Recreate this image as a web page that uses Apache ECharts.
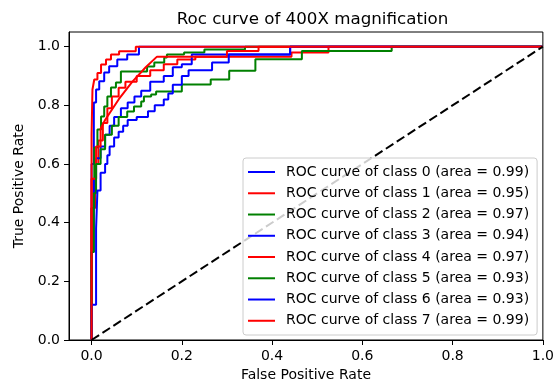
<!DOCTYPE html>
<html>
<head>
<meta charset="utf-8">
<script src="https://cdn.jsdelivr.net/npm/echarts@6/dist/echarts.min.js"></script>
<style>
html,body{margin:0;padding:0;background:#fff;}
#chart{width:557px;height:387px;}
</style>
</head>
<body>
<div id="chart"></div>
<script>
var titleText = "Roc curve of 400X magnification";
var xLabel = "False Positive Rate";
var yLabel = "True Positive Rate";
var xTicks = [0, 0.2, 0.4, 0.6, 0.8, 1.0];
var yTicks = [0, 0.2, 0.4, 0.6, 0.8, 1.0];
var classIds = [0, 1, 2, 3, 4, 5, 6, 7];
var areas = ["0.99", "0.95", "0.97", "0.94", "0.97", "0.93", "0.93", "0.99"];
var classColors = ["#0000ff", "#ff0000", "#008000", "#0000ff", "#ff0000", "#008000", "#0000ff", "#ff0000"];

var fpr0 = [0, 0, 0.005, 0.005, 0.01, 0.01, 0.017, 0.017, 0.028, 0.028, 0.039, 0.039, 0.057, 0.057, 0.079, 0.079, 0.105, 0.105, 1];
var tpr0 = [0, 0.6, 0.6, 0.81, 0.81, 0.854, 0.854, 0.882, 0.882, 0.912, 0.912, 0.933, 0.933, 0.956, 0.956, 0.973, 0.973, 1, 1];

var fpr1 = [0, 0, 0.008, 0.008, 0.015, 0.015, 0.025, 0.025, 0.035, 0.035, 0.045, 0.045, 0.06, 0.06, 0.075, 0.075, 0.1, 0.1, 0.13, 0.13, 0.16, 0.16, 0.19, 0.19, 0.23, 0.23, 0.443, 0.443, 0.525, 0.525, 1];
var tpr1 = [0, 0.45, 0.45, 0.6, 0.6, 0.68, 0.68, 0.74, 0.74, 0.79, 0.79, 0.83, 0.83, 0.86, 0.86, 0.88, 0.88, 0.9, 0.9, 0.92, 0.92, 0.94, 0.94, 0.956, 0.956, 0.966, 0.966, 0.98, 0.98, 1, 1];

var fpr2 = [0, 0, 0.006, 0.006, 0.013, 0.013, 0.021, 0.021, 0.028, 0.028, 0.035, 0.035, 0.043, 0.043, 0.054, 0.054, 0.065, 0.065, 0.123, 0.123, 0.139, 0.139, 0.161, 0.161, 0.167, 0.167, 0.205, 0.205, 0.25, 0.25, 0.34, 0.34, 1];
var tpr2 = [0, 0.45, 0.45, 0.656, 0.656, 0.718, 0.718, 0.762, 0.762, 0.796, 0.796, 0.83, 0.83, 0.861, 0.861, 0.878, 0.878, 0.915, 0.915, 0.932, 0.932, 0.946, 0.946, 0.963, 0.963, 0.973, 0.973, 0.98, 0.98, 0.99, 0.99, 1, 1];

var fpr3 = [0, 0, 0.005, 0.005, 0.01, 0.01, 0.02, 0.02, 0.03, 0.03, 0.04, 0.04, 0.05, 0.05, 0.065, 0.065, 0.08, 0.08, 0.095, 0.095, 0.11, 0.11, 0.13, 0.13, 0.16, 0.16, 0.18, 0.18, 0.2, 0.2, 0.222, 0.222, 0.44, 0.44, 1];
var tpr3 = [0, 0.3, 0.3, 0.55, 0.55, 0.62, 0.62, 0.66, 0.66, 0.7, 0.7, 0.73, 0.73, 0.76, 0.76, 0.79, 0.79, 0.81, 0.81, 0.83, 0.83, 0.85, 0.85, 0.88, 0.88, 0.9, 0.9, 0.93, 0.93, 0.94, 0.94, 0.973, 0.973, 1, 1];

var fpr4 = [0, 0, 0.01, 0.01, 0.02, 0.02, 0.03, 0.06, 0.09, 0.12, 0.145, 0.3, 0.3, 0.37, 0.37, 1];
var tpr4 = [0, 0.55, 0.55, 0.66, 0.66, 0.72, 0.75, 0.82, 0.88, 0.93, 0.966, 0.966, 0.985, 0.985, 1, 1];

var fpr5 = [0, 0, 0.005, 0.005, 0.01, 0.01, 0.02, 0.02, 0.03, 0.03, 0.045, 0.045, 0.06, 0.06, 0.079, 0.079, 0.094, 0.094, 0.11, 0.11, 0.116, 0.116, 0.132, 0.132, 0.143, 0.143, 0.2, 0.2, 0.264, 0.264, 0.305, 0.305, 0.363, 0.363, 0.466, 0.466, 0.665, 0.665, 1];
var tpr5 = [0, 0.3, 0.3, 0.5, 0.5, 0.6, 0.6, 0.65, 0.65, 0.7, 0.7, 0.73, 0.73, 0.76, 0.76, 0.779, 0.779, 0.796, 0.796, 0.813, 0.813, 0.83, 0.83, 0.837, 0.837, 0.847, 0.847, 0.871, 0.871, 0.888, 0.888, 0.918, 0.918, 0.957, 0.957, 0.985, 0.985, 1, 1];

var fpr6 = [0, 0, 0.01, 0.01, 0.013, 0.013, 0.02, 0.02, 0.03, 0.03, 0.035, 0.035, 0.04, 0.04, 0.05, 0.05, 0.06, 0.06, 0.07, 0.07, 0.08, 0.08, 0.1, 0.1, 0.125, 0.125, 0.14, 0.14, 0.16, 0.16, 0.17, 0.17, 0.18, 0.18, 0.2, 0.2, 0.215, 0.215, 0.267, 0.267, 0.304, 0.304, 0.44, 0.44, 1];
var tpr6 = [0, 0.12, 0.12, 0.38, 0.38, 0.51, 0.51, 0.57, 0.57, 0.6, 0.6, 0.63, 0.63, 0.66, 0.66, 0.69, 0.69, 0.71, 0.71, 0.73, 0.73, 0.75, 0.75, 0.76, 0.76, 0.78, 0.78, 0.8, 0.8, 0.82, 0.82, 0.84, 0.84, 0.87, 0.87, 0.9, 0.9, 0.92, 0.92, 0.946, 0.946, 0.973, 0.973, 1, 1];

var fpr7 = [0, 0, 0.002, 0.002, 0.006, 0.006, 0.013, 0.013, 0.021, 0.021, 0.032, 0.032, 0.043, 0.043, 0.061, 0.061, 0.098, 0.098, 1];
var tpr7 = [0, 0.7, 0.7, 0.854, 0.854, 0.888, 0.888, 0.91, 0.91, 0.939, 0.939, 0.956, 0.956, 0.973, 0.973, 0.984, 0.984, 1, 1];

var diagX = [0, 1];
var diagY = [0, 1];

var fprs = [fpr0, fpr1, fpr2, fpr3, fpr4, fpr5, fpr6, fpr7];
var tprs = [tpr0, tpr1, tpr2, tpr3, tpr4, tpr5, tpr6, tpr7];

function zip(a, b) { return a.map(function (v, i) { return [v, b[i]]; }); }

var FONT = "DejaVu Sans";
var names = [];
var series = [];
classIds.forEach(function (c, i) {
  var nm = "ROC curve of class " + c + " (area = " + areas[i] + ")";
  names.push(nm);
  series.push({
    name: nm, type: "line", data: zip(fprs[i], tprs[i]),
    showSymbol: false, symbol: "none", color: classColors[i],
    lineStyle: { width: 2, color: classColors[i] }, z: 2 + i * 0.01,
    silent: true, animation: false
  });
});
series.push({
  name: "chance", type: "line", data: zip(diagX, diagY), showSymbol: false, symbol: "none",
  lineStyle: { width: 2, color: "#000", type: [9, 4] }, color: "#000", z: 3, silent: true, animation: false
});

var chart = echarts.init(document.getElementById("chart"), null, { renderer: "canvas" });
chart.setOption({
  animation: false,
  backgroundColor: "#fff",
  textStyle: { fontFamily: FONT },
  title: {
    text: titleText, left: 307.5, top: 6, textAlign: "center",
    textStyle: { fontFamily: FONT, fontSize: 16.7, fontWeight: "normal", color: "#000" }
  },
  grid: { left: 69, right: 11, top: 32, bottom: 46, show: true, borderColor: "#000", borderWidth: 1, backgroundColor: "transparent" },
  legend: {
    data: names, orient: "vertical", left: 243, top: 158,
    padding: [3.4, 8, 3.6, 5], itemGap: 0, itemWidth: 27, itemHeight: 2, icon: "rect",
    backgroundColor: "rgba(255,255,255,0.8)", borderColor: "#cccccc", borderWidth: 1, borderRadius: 3,
    textStyle: { fontFamily: FONT, fontSize: 14, color: "#000", lineHeight: 21.25, padding: [0, 0, 0, 6] },
    selectedMode: false
  },
  xAxis: {
    type: "value", min: -0.05, max: 1.0,
    name: xLabel, nameLocation: "middle", nameGap: 28,
    nameTextStyle: { fontFamily: FONT, fontSize: 14, color: "#000" },
    axisLine: { show: true, onZero: false, lineStyle: { color: "#000", width: 1 } },
    axisTick: { show: true, customValues: xTicks, length: 5, lineStyle: { color: "#000", width: 1 } },
    axisLabel: { customValues: xTicks, margin: 9, fontFamily: FONT, fontSize: 14, color: "#000",
      formatter: function (v) { return v.toFixed(1); } },
    splitLine: { show: false }
  },
  yAxis: {
    type: "value", min: 0, max: 1.05,
    name: yLabel, nameLocation: "middle", nameGap: 41,
    nameTextStyle: { fontFamily: FONT, fontSize: 14, color: "#000" },
    axisLine: { show: true, onZero: false, lineStyle: { color: "#000", width: 1 } },
    axisTick: { show: true, customValues: yTicks, length: 5, lineStyle: { color: "#000", width: 1 } },
    axisLabel: { customValues: yTicks, margin: 9, fontFamily: FONT, fontSize: 14, color: "#000",
      formatter: function (v) { return v.toFixed(1); } },
    splitLine: { show: false }
  },
  series: series
});
</script>
</body>
</html>
